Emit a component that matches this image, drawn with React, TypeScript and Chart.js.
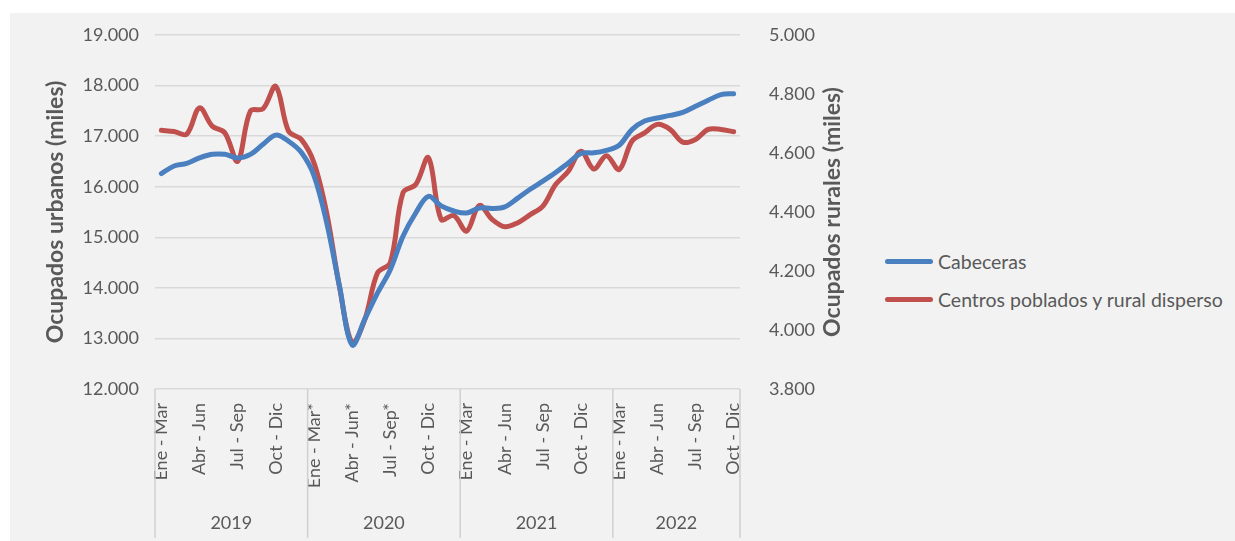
import React, { useEffect, useRef } from 'react';
import Chart from 'chart.js/auto';

// --- Datos (miles de ocupados, trimestre móvil) ---

const anios = ['2019', '2020', '2021', '2022'];
const trimestresPorAnio = [12, 12, 12, 10];
const trimestres = [
  'Ene - Mar', 'Feb - Abr', 'Mar - May', 'Abr - Jun', 'May - Jul', 'Jun - Ago',
  'Jul - Sep', 'Ago - Oct', 'Sep - Nov', 'Oct - Dic', 'Nov - Ene', 'Dic - Feb',
];
// trimestres de 2020 marcados con asterisco
const marcados2020 = 7;
// posiciones de trimestre que llevan etiqueta en el eje
const trimestresVisibles = [0, 3, 6, 9];

const cabeceras = [
  16260, 16410, 16460, 16570, 16640, 16640, 16570, 16640, 16840, 17020, 16900, 16680,
  16220, 15290, 14040, 12870, 13380, 13900, 14360, 15020, 15480, 15810, 15620, 15520,
  15480, 15580, 15570, 15600, 15770, 15950, 16110, 16280, 16470, 16660, 16670, 16720,
  16820, 17130, 17300, 17360, 17410, 17470, 17590, 17710, 17820, 17840,
];

const centrosPoblados = [
  4677, 4673, 4664, 4753, 4691, 4668, 4572, 4742, 4750, 4826, 4674, 4646,
  4567, 4397, 4148, 3957, 4036, 4194, 4228, 4465, 4493, 4584, 4375, 4388,
  4335, 4422, 4375, 4350, 4363, 4391, 4420, 4493, 4538, 4606, 4546, 4591,
  4544, 4640, 4668, 4697, 4680, 4637, 4646, 4680, 4680, 4672,
];

const series = ['Cabeceras', 'Centros poblados y rural disperso'];
const colores = ['#4a7fc0', '#c0504d'];

const tituloIzq = 'Ocupados urbanos (miles)';
const tituloDer = 'Ocupados rurales (miles)';

const GRIS = '#595959';
const FUENTE = 'Lato, "Open Sans", sans-serif';

// --- Helpers ---

const miles = (v: number) => String(Math.round(v)).replace(/\B(?=(\d{3})+(?!\d))/g, '.');

const etiquetas: string[] = [];
anios.forEach((anio, k) => {
  for (let i = 0; i < trimestresPorAnio[k]; i++) {
    const estrella = anio === '2020' && i < marcados2020 ? '*' : '';
    etiquetas.push(trimestres[i] + estrella);
  }
});

// Eje de años (segundo nivel) y título del eje derecho
const ejeAniosPlugin = {
  id: 'ejeAnios',
  afterDraw(chart: any) {
    const { ctx, chartArea } = chart;
    const x = chart.scales.x;
    const paso = x.getPixelForValue(1) - x.getPixelForValue(0);
    const abajo = x.bottom - 1;
    ctx.save();
    ctx.strokeStyle = '#d0d0d0';
    ctx.lineWidth = 1.5;
    ctx.fillStyle = GRIS;
    ctx.font = `18px ${FUENTE}`;
    ctx.textAlign = 'center';
    ctx.textBaseline = 'middle';
    let inicio = 0;
    anios.forEach((anio, k) => {
      const n = trimestresPorAnio[k];
      const izq = x.getPixelForValue(inicio) - paso / 2;
      const der = x.getPixelForValue(inicio + n - 1) + paso / 2;
      ctx.beginPath();
      ctx.moveTo(izq, chartArea.bottom);
      ctx.lineTo(izq, abajo);
      if (k === anios.length - 1) {
        ctx.moveTo(der, chartArea.bottom);
        ctx.lineTo(der, abajo);
      }
      ctx.stroke();
      ctx.fillText(anio, (izq + der) / 2, abajo - 15);
      inicio += n;
    });

    // título derecho, leído de abajo hacia arriba como en el original
    const y1 = chart.scales.y1;
    ctx.translate(y1.right - 17, (chartArea.top + chartArea.bottom) / 2);
    ctx.rotate(-Math.PI / 2);
    ctx.font = `bold 23px ${FUENTE}`;
    ctx.fillText(tituloDer, 0, 0);
    ctx.restore();
  },
};

export default function App() {
  const canvasRef = useRef<HTMLCanvasElement>(null);

  useEffect(() => {
    document.body.style.margin = '0';
    const ctx = canvasRef.current?.getContext('2d');
    if (!ctx) return;

    const chart = new Chart(ctx, {
      type: 'line',
      data: {
        labels: etiquetas,
        datasets: [
          {
            label: series[0],
            data: cabeceras,
            yAxisID: 'y',
            borderColor: colores[0],
            backgroundColor: colores[0],
            borderWidth: 5,
            pointRadius: 0,
            tension: 0.35,
            borderCapStyle: 'round',
            borderJoinStyle: 'round',
          },
          {
            label: series[1],
            data: centrosPoblados,
            yAxisID: 'y1',
            borderColor: colores[1],
            backgroundColor: colores[1],
            borderWidth: 5,
            pointRadius: 0,
            tension: 0.35,
            borderCapStyle: 'round',
            borderJoinStyle: 'round',
          },
        ],
      },
      options: {
        responsive: true,
        maintainAspectRatio: false,
        animation: false,
        layout: { padding: { left: 30, top: 35, right: 10, bottom: 2 } },
        plugins: {
          legend: { display: false },
          tooltip: { enabled: false },
        },
        scales: {
          x: {
            offset: true,
            grid: { display: false },
            border: { display: false },
            afterFit: (s: any) => { s.height = 150; },
            ticks: {
              autoSkip: false,
              minRotation: 90,
              maxRotation: 90,
              padding: 6,
              color: GRIS,
              font: { family: FUENTE, size: 18 },
              callback: (_v: any, i: number) => {
                let resto = i;
                for (const n of trimestresPorAnio) {
                  if (resto < n) break;
                  resto -= n;
                }
                return trimestresVisibles.includes(resto) ? etiquetas[i] : '';
              },
            },
          },
          y: {
            position: 'left',
            min: 12000,
            max: 19000,
            afterFit: (s: any) => { s.width = 125; },
            grid: { color: '#d9d9d9', lineWidth: 1.5, drawTicks: false },
            border: { display: false },
            ticks: {
              stepSize: 1000,
              padding: 16,
              color: GRIS,
              font: { family: FUENTE, size: 18 },
              callback: (v: any) => miles(Number(v)),
            },
            title: {
              display: true,
              text: tituloIzq,
              color: GRIS,
              padding: { top: 12, bottom: 0 },
              font: { family: FUENTE, size: 23, weight: 'bold' },
            },
          },
          y1: {
            position: 'right',
            min: 3800,
            max: 5000,
            afterFit: (s: any) => { s.width = 110; },
            grid: { display: false },
            border: { display: false },
            ticks: {
              stepSize: 200,
              padding: 21,
              color: GRIS,
              font: { family: FUENTE, size: 18 },
              callback: (v: any) => miles(Number(v)),
            },
          },
        },
      },
      plugins: [ejeAniosPlugin],
    });

    return () => chart.destroy();
  }, []);

  return (
    <div style={{ position: 'relative', width: 1235, height: 541, background: '#ffffff', fontFamily: FUENTE }}>
      <div style={{ position: 'absolute', left: 10, top: 13, right: 0, bottom: 0, background: '#f2f2f2' }} />
      <div style={{ position: 'absolute', left: 0, top: 0, width: 860, height: 541 }}>
        <canvas ref={canvasRef} />
      </div>
      <div style={{ position: 'absolute', left: 885, top: 247, color: GRIS, fontSize: 19.5 }}>
        {series.map((nombre, k) => (
          <div key={nombre} style={{ display: 'flex', alignItems: 'center', height: 29, marginBottom: k === 0 ? 9 : 0 }}>
            <span style={{ display: 'inline-block', width: 48, height: 5, borderRadius: 3, background: colores[k], marginRight: 5 }} />
            <span>{nombre}</span>
          </div>
        ))}
      </div>
    </div>
  );
}
